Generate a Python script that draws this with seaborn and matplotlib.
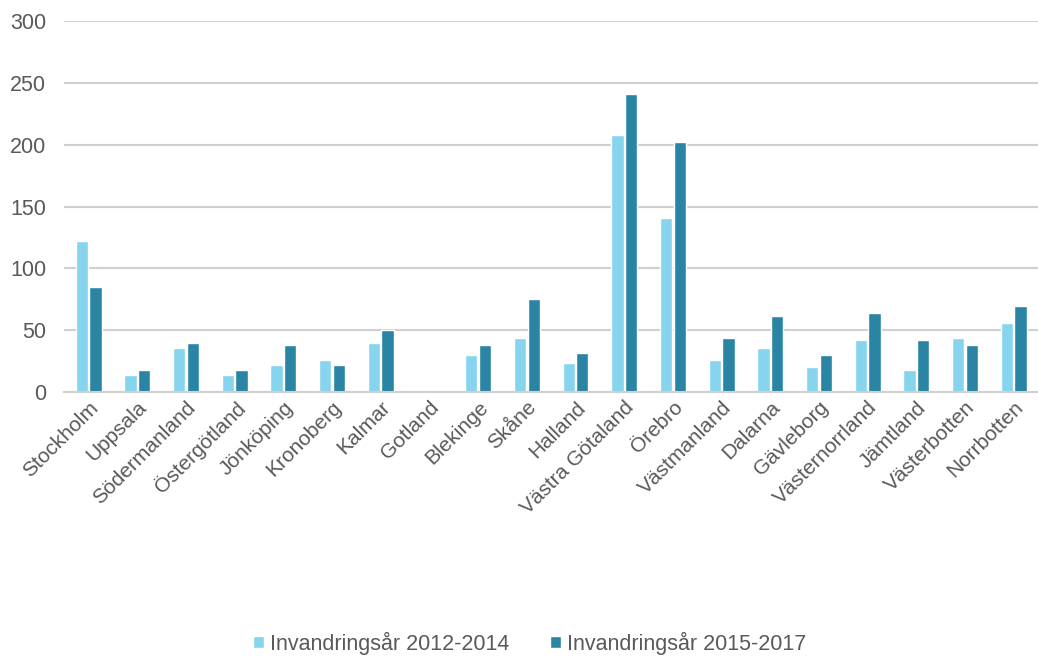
import matplotlib
matplotlib.use('Agg')
import matplotlib.pyplot as plt
import pandas as pd
import seaborn as sns

regions = ['Stockholm', 'Uppsala', 'Södermanland', 'Östergötland', 'Jönköping',
           'Kronoberg', 'Kalmar', 'Gotland', 'Blekinge', 'Skåne', 'Halland',
           'Västra Götaland', 'Örebro', 'Västmanland', 'Dalarna', 'Gävleborg',
           'Västernorrland', 'Jämtland', 'Västerbotten', 'Norrbotten']
vals_2012_2014 = [122, 14, 36, 14, 22, 26, 40, 0, 30, 44, 24, 208, 141,
                  26, 36, 20, 42, 18, 44, 56]
vals_2015_2017 = [85, 18, 40, 18, 38, 22, 50, 0, 38, 75, 32, 241, 202,
                  44, 62, 30, 64, 42, 38, 70]
series_names = ['Invandringsår 2012-2014', 'Invandringsår 2015-2017']

df = pd.DataFrame({
    'region': regions * 2,
    'value': vals_2012_2014 + vals_2015_2017,
    'period': [series_names[0]] * len(regions) + [series_names[1]] * len(regions),
})

sns.set_theme(style='white')
plt.rcParams['font.family'] = ['Liberation Sans', 'DejaVu Sans']
TXT = '#595959'

fig = plt.figure(figsize=(10.38, 6.57), dpi=100)
ax = fig.add_axes([0.062, 0.403, 0.938, 0.565])

sns.barplot(data=df, x='region', y='value', hue='period',
            palette=['#86D4EE', '#2A84A3'], width=0.56, gap=0.1,
            saturation=1, ax=ax)

ax.set_ylim(0, 300)
ax.set_yticks(range(0, 301, 50))
ax.set_xlim(-0.5, len(regions) - 0.5)
ax.yaxis.grid(True, color='#D0D0D0', lw=1.5)
ax.set_axisbelow(True)
for s in ['top', 'right', 'left']:
    ax.spines[s].set_visible(False)
ax.spines['bottom'].set_color('#D0D0D0')
ax.spines['bottom'].set_linewidth(1.5)
ax.set_xlabel('')
ax.set_ylabel('')
ax.tick_params(axis='y', labelsize=15.5, colors=TXT, length=0, pad=13)
ax.tick_params(axis='x', labelsize=15, colors=TXT, length=0, pad=4)
plt.setp(ax.get_xticklabels(), rotation=45, ha='right', rotation_mode='anchor')

leg = ax.legend(loc='lower center', bbox_to_anchor=(0.478, -0.76), ncol=2,
                frameon=False, fontsize=15.5, handlelength=0.5, handleheight=0.5,
                handletextpad=0.3, columnspacing=1.9)
for t in leg.get_texts():
    t.set_color(TXT)

fig.savefig('out.png', dpi=100)
